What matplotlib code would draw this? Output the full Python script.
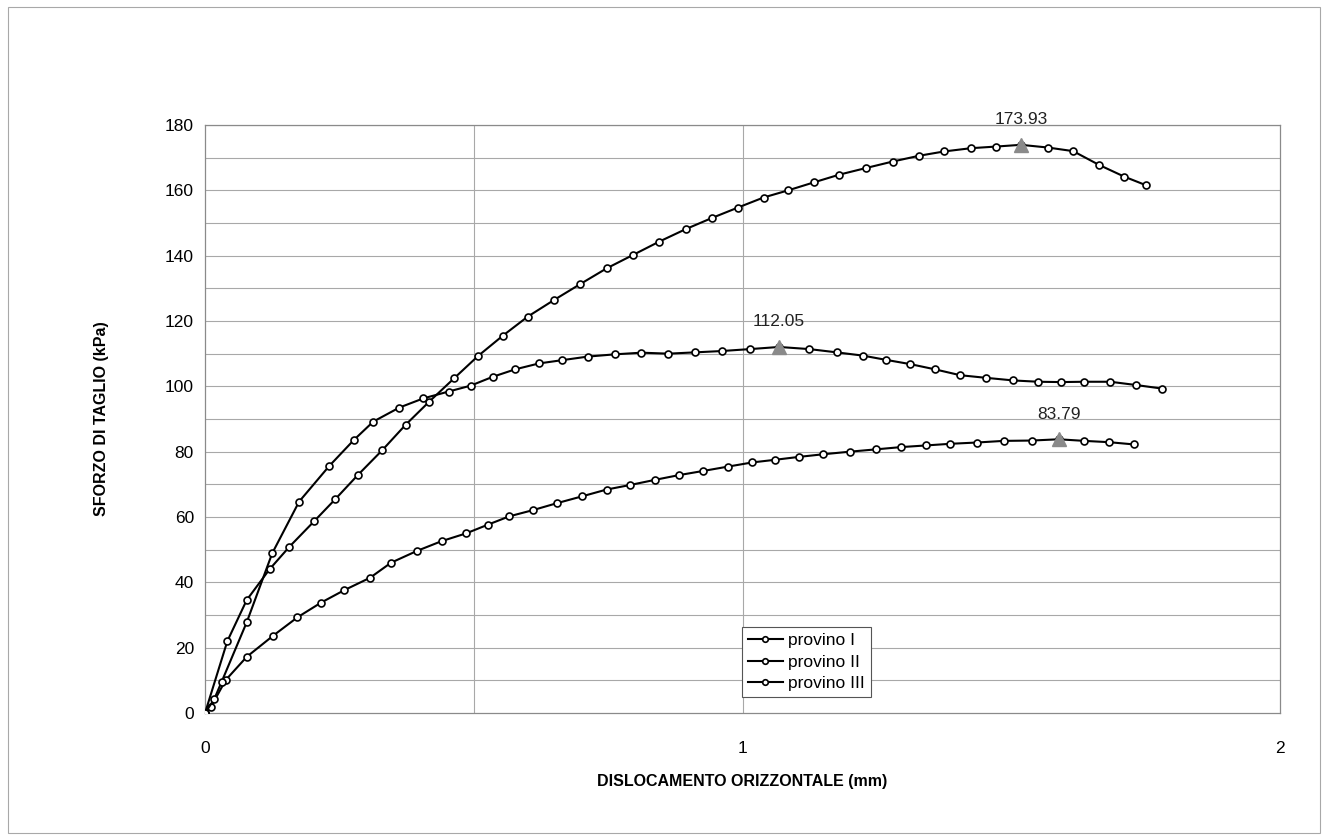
import numpy as np
import matplotlib
matplotlib.use('Agg')
import matplotlib.pyplot as plt
from matplotlib.patches import Rectangle

plt.rcParams['font.family'] = ['Liberation Sans', 'DejaVu Sans']

# Dati (dislocamento in mm, sforzo in kPa)
x_I = [0, 0.011, 0.0385, 0.0776, 0.127, 0.172, 0.216, 0.259, 0.307, 0.346, 0.394,
       0.44, 0.486, 0.527, 0.566, 0.61, 0.654, 0.701, 0.747, 0.791, 0.838, 0.881,
       0.927, 0.972, 1.018, 1.06, 1.105, 1.15, 1.2, 1.248, 1.295, 1.341, 1.386,
       1.436, 1.486, 1.538, 1.588, 1.636, 1.682, 1.729]
y_I = [0, 1.9, 10.1, 17.2, 23.7, 29.3, 33.8, 37.6, 41.4, 46.0, 49.6,
       52.6, 55.0, 57.7, 60.2, 62.1, 64.2, 66.3, 68.4, 69.8, 71.4, 72.8,
       74.1, 75.4, 76.7, 77.5, 78.4, 79.2, 80.0, 80.7, 81.4, 81.9, 82.4,
       82.8, 83.3, 83.4, 83.79, 83.3, 82.9, 82.2]

x_II = [0, 0.017, 0.031, 0.0776, 0.125, 0.175, 0.231, 0.277, 0.313, 0.3615, 0.406,
        0.453, 0.494, 0.535, 0.577, 0.621, 0.664, 0.712, 0.763, 0.812, 0.862,
        0.912, 0.961, 1.014, 1.068, 1.124, 1.175, 1.224, 1.267, 1.312, 1.358,
        1.405, 1.453, 1.504, 1.55, 1.592, 1.636, 1.684, 1.732, 1.781]
y_II = [0, 4.2, 9.6, 27.8, 48.9, 64.7, 75.6, 83.6, 89.2, 93.5, 96.3,
        98.4, 100.2, 102.9, 105.2, 107.0, 108.0, 109.1, 109.8, 110.3, 110.0,
        110.4, 110.8, 111.4, 112.05, 111.4, 110.4, 109.4, 108.1, 106.8, 105.2,
        103.4, 102.6, 101.8, 101.4, 101.3, 101.4, 101.4, 100.4, 99.3]

x_III = [0, 0.0415, 0.0776, 0.12, 0.157, 0.203, 0.242, 0.284, 0.33, 0.373, 0.417,
         0.463, 0.508, 0.554, 0.6, 0.649, 0.698, 0.747, 0.796, 0.845, 0.894,
         0.944, 0.991, 1.039, 1.085, 1.132, 1.18, 1.229, 1.279, 1.329, 1.375,
         1.425, 1.472, 1.518, 1.568, 1.615, 1.663, 1.71, 1.75]
y_III = [0, 22.0, 34.6, 44.0, 50.9, 58.7, 65.4, 72.8, 80.5, 88.2, 95.3,
         102.4, 109.3, 115.5, 121.3, 126.4, 131.3, 136.1, 140.2, 144.3, 148.1,
         151.6, 154.7, 157.8, 160.0, 162.4, 164.8, 166.8, 168.8, 170.6, 171.9,
         172.9, 173.4, 173.93, 173.1, 172.0, 167.8, 164.2, 161.6]

serie = [('provino I', x_I, y_I), ('provino II', x_II, y_II), ('provino III', x_III, y_III)]

#%%
fig = plt.figure(figsize=(13.28, 8.4), dpi=100)
ax = fig.add_axes([0.1544, 0.1512, 0.8095, 0.700])

# cornice esterna del grafico
fig.patches.append(Rectangle((0.006, 0.008), 0.988, 0.984, transform=fig.transFigure,
                             fill=False, edgecolor='#a8a8a8', lw=0.8))

# griglia
for yy in range(10, 190, 10):
    ax.axhline(yy, color='#a8a8a8', lw=0.8, zorder=1)
for xx in [0.5, 1.0]:
    ax.axvline(xx, color='#a8a8a8', lw=0.8, zorder=1)

for nome, xs, ys in serie:
    ax.plot(xs, ys, color='black', lw=1.5, marker='o', ms=5, mfc='white',
            mec='black', mew=1.2, label=nome, zorder=3)
    i = int(np.argmax(ys))
    ax.plot(xs[i], ys[i], marker='^', ms=10, color='#8a8a8a', ls='none', zorder=4)
    ax.annotate('%.2f' % ys[i], (xs[i], ys[i]), xytext=(0, 18), textcoords='offset points',
                ha='center', va='center', fontsize=12.5, color='#222222')

ax.set_xlim(0, 2)
ax.set_ylim(0, 180)
ax.set_xticks([0, 1, 2])
ax.set_yticks(range(0, 181, 20))
ax.tick_params(axis='both', labelsize=12.5, length=0)
ax.tick_params(axis='x', pad=20)
ax.tick_params(axis='y', pad=8)
for s in ax.spines.values():
    s.set_color('#8a8a8a')
    s.set_linewidth(0.9)

ax.set_xlabel('DISLOCAMENTO ORIZZONTALE (mm)', fontsize=11.5, fontweight='bold', labelpad=13)
ax.set_ylabel('SFORZO DI TAGLIO (kPa)', fontsize=11.5, fontweight='bold', labelpad=40)

leg = ax.legend(loc='upper left', bbox_to_anchor=(0.4995, 0.146), fontsize=12.5,
                handlelength=2.0, handletextpad=0.3, borderpad=0.35, labelspacing=0.35,
                fancybox=False, framealpha=1, edgecolor='#555555', borderaxespad=0)
leg.get_frame().set_linewidth(0.8)
for h in leg.get_lines():
    h.set_markersize(4)

fig.savefig('out.png', dpi=100)
